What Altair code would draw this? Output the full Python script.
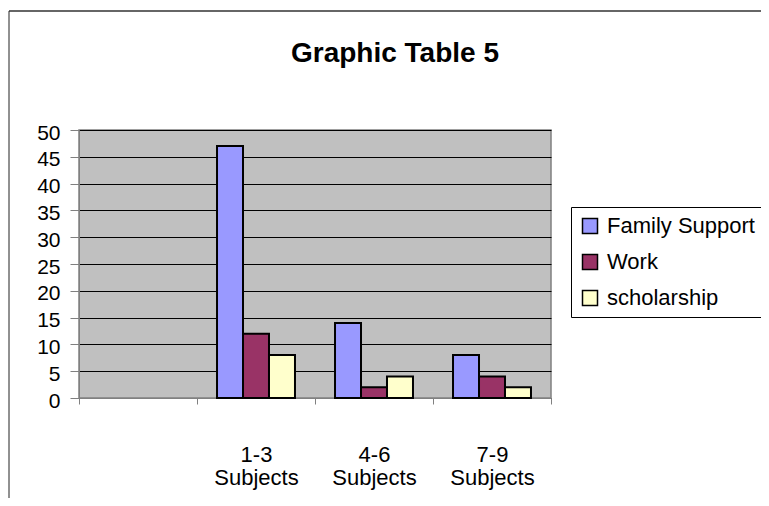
import altair as alt
import pandas as pd

categories = ["1-3 Subjects", "4-6 Subjects", "7-9 Subjects"]
slots = [" "] + categories
series = ["Family Support", "Work", "scholarship"]
family_support = [47, 14, 8]
work = [12, 2, 4]
scholarship = [8, 4, 2]
colors = ["#9999FF", "#993366", "#FFFFCC"]
title_text = ["Graphic Table 5"]

rows = []
for s, vals in zip(series, [family_support, work, scholarship]):
    for c, v in zip(categories, vals):
        rows.append({"category": c, "series": s, "value": v})
df = pd.DataFrame(rows)

FONT = "Liberation Sans"

label_expr = ("isValid(datum.value) && length(trim(datum.value + '')) > 0 "
              "&& (datum.value + '') != 'undefined' ? split(datum.value, ' ') : ''")

bars = alt.Chart(df).mark_bar(stroke="black", strokeWidth=2).encode(
    x=alt.X("category:N", scale=alt.Scale(domain=slots, paddingInner=0, paddingOuter=0),
            axis=alt.Axis(title=None, labelAngle=0, tickBand="extent", tickSize=6,
                          tickColor="#808080", domainColor="#808080", grid=False,
                          labelExpr=label_expr,
                          labelFontSize=22,
                          labelLineHeight=23, labelPadding=40, labelColor="black")),
    xOffset=alt.XOffset("series:N", scale=alt.Scale(domain=series, paddingInner=0, paddingOuter=0.77)),
    y=alt.Y("value:Q", scale=alt.Scale(domain=[0, 50], nice=False),
            axis=alt.Axis(title=None, values=list(range(0, 51, 5)), tickSize=9,
                          labelPadding=10, labelFontSize=21, labelColor="black",
                          labelOffset=3, tickColor="#808080", domainColor="#808080",
                          grid=True, gridColor="black", gridWidth=1)),
    color=alt.Color("series:N", scale=alt.Scale(domain=series, range=colors),
                    legend=alt.Legend(title=None, orient="none", legendX=492, legendY=77,
                                      labelFontSize=22, symbolType="square", symbolSize=225,
                                      symbolStrokeColor="black", symbolStrokeWidth=1.5,
                                      strokeColor="black", fillColor="white",
                                      padding=8, rowPadding=14, labelOffset=6,
                                      labelColor="black")),
)

title = alt.Chart(pd.DataFrame({"t": title_text})).mark_text(
    fontSize=28, fontWeight="bold", font=FONT, baseline="alphabetic", align="center", color="black"
).encode(text="t:N", x=alt.value(316), y=alt.value(-68))

frame_df = pd.DataFrame({"k": [0]})
top_line = alt.Chart(frame_df).mark_rule(color="#333333", strokeWidth=1.5).encode(
    x=alt.value(-70), x2=alt.value(700), y=alt.value(-119))
left_line = alt.Chart(frame_df).mark_rule(color="#222222", strokeWidth=1).encode(
    x=alt.value(-70), y=alt.value(-119), y2=alt.value(400))

chart = alt.layer(bars, title, top_line, left_line).properties(
    width=472, height=268,
    autosize=alt.AutoSizeParams(type="none"),
    padding={"left": 71, "top": 122, "right": 210, "bottom": 100},
    background="white",
).configure(font=FONT).configure_view(fill="#C0C0C0", stroke="#808080", strokeWidth=1.5)

chart.save("out.html", embed_options={"renderer": "svg", "actions": False})
